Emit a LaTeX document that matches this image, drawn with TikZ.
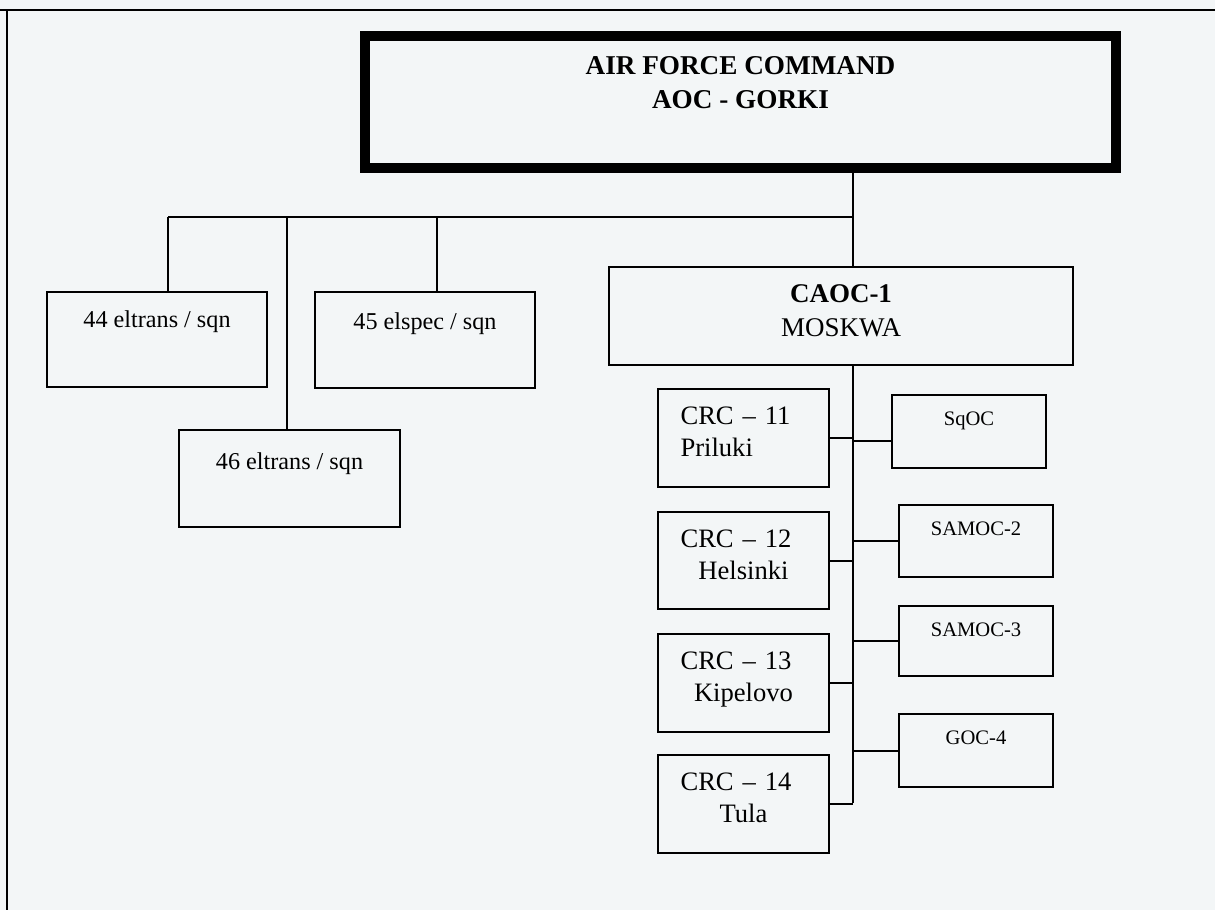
\documentclass[tikz,border=0pt]{standalone}
\usepackage{fontspec}
\setmainfont{Liberation Serif}
\usepackage{tikz}
\usetikzlibrary{positioning}
\definecolor{scanbg}{RGB}{243,246,247}
\tikzset{
  cmdbox/.style={draw,line width=5pt,outer sep=0pt,inner sep=0pt},
  unitbox/.style={draw,line width=1pt,outer sep=0pt,inner sep=0pt},
  cmdlbl/.style={anchor=north,inner sep=0pt,align=center,
    font=\fontsize{13.6}{17}\selectfont\bfseries},
  caoclbl/.style={anchor=north,inner sep=0pt,align=center,
    font=\fontsize{13.5}{17}\selectfont},
  sqnlbl/.style={anchor=north,inner sep=0pt,font=\fontsize{12.1}{14}\selectfont},
  crclbl/.style={anchor=north,inner sep=0pt,text width=63pt,align=left,
    font=\fontsize{13.3}{16}\selectfont},
  oclbl/.style={anchor=north,inner sep=0pt,font=\fontsize{10.3}{12}\selectfont},
  link/.style={line width=1pt},
  frameln/.style={line width=1.2pt},
}

\begin{document}
\begin{tikzpicture}[x=0.5pt,y=-0.5pt]
  \fill[scanbg] (0,0) rectangle (1215,910);
  \useasboundingbox (0,0) rectangle (1215,910);
  \draw[frameln] (0,10) -- (1215,10);
  \draw[frameln] (7,10) -- (7,910);

  \node[cmdbox,minimum width=375.5pt,minimum height=66pt] (afc) at (740.5,102) {};
  \node[cmdlbl,below=10pt of afc.north] (afclbl) {AIR FORCE COMMAND\\AOC - GORKI};

  \node[unitbox,minimum width=232pt,minimum height=49pt] (caoc) at (841,316) {};
  \node[caoclbl,below=8.5pt of caoc.north] (caoclbl) {{\bfseries CAOC-1}\\MOSKWA};

  \node[unitbox,minimum width=110pt,minimum height=47.5pt] (sq44) at (157,339.5) {};
  \node[unitbox,minimum width=110pt,minimum height=48pt] (sq45) at (425,340) {};
  \node[unitbox,minimum width=110.5pt,minimum height=48.5pt] (sq46) at (289.5,478.5) {};
  \node[sqnlbl,below=9pt of sq44.north] (sq44lbl) {44 eltrans / sqn};
  \node[sqnlbl,below=10pt of sq45.north] (sq45lbl) {45 elspec / sqn};
  \node[sqnlbl,below=11pt of sq46.north] (sq46lbl) {46 eltrans / sqn};

  \node[unitbox,minimum width=85.5pt,minimum height=49pt] (crc11) at (743.5,438) {};
  \node[unitbox,minimum width=85.5pt,minimum height=48.5pt] (crc12) at (743.5,560.5) {};
  \node[unitbox,minimum width=85.5pt,minimum height=49pt] (crc13) at (743.5,683) {};
  \node[unitbox,minimum width=85.5pt,minimum height=49pt] (crc14) at (743.5,804) {};
  \node[crclbl,below=8.5pt of crc11.north] (crc11lbl) {CRC -- 11\\Priluki};
  \node[crclbl,below=8.5pt of crc12.north] (crc12lbl) {CRC -- 12\par{\centering Helsinki\par}};
  \node[crclbl,below=8.5pt of crc13.north] (crc13lbl) {CRC -- 13\par{\centering Kipelovo\par}};
  \node[crclbl,below=8.5pt of crc14.north] (crc14lbl) {CRC -- 14\par{\centering Tula\par}};

  \node[unitbox,minimum width=77pt,minimum height=36.5pt] (sqoc) at (969,431.5) {};
  \node[unitbox,minimum width=77pt,minimum height=36pt] (samoc2) at (976,541) {};
  \node[unitbox,minimum width=77pt,minimum height=35pt] (samoc3) at (976,641) {};
  \node[unitbox,minimum width=77pt,minimum height=36.5pt] (goc4) at (976,750.5) {};
  \node[oclbl,below=8pt of sqoc.north] (sqoclbl) {SqOC};
  \node[oclbl,below=8pt of samoc2.north] (samoc2lbl) {SAMOC-2};
  \node[oclbl,below=8pt of samoc3.north] (samoc3lbl) {SAMOC-3};
  \node[oclbl,below=8pt of goc4.north] (goc4lbl) {GOC-4};

  \coordinate (trunk) at (853,217);
  \coordinate (j44) at (168,217);
  \coordinate (j46) at (287,217);
  \coordinate (j45) at (437,217);
  \coordinate (busend) at (853,803);
  \draw[link] (afc.south -| trunk) -- (caoc.north -| trunk);
  \draw[link] (j44) -- (trunk);
  \draw[link] (j44) -- (j44 |- sq44.north);
  \draw[link] (j46) -- (j46 |- sq46.north);
  \draw[link] (j45) -- (j45 |- sq45.north);
  \draw[link] (caoc.south -| trunk) -- (busend);
  \foreach \n in {crc11,crc12,crc13,crc14}
    \draw[link] (\n.east) -- (\n.east -| busend);
  \foreach \n in {samoc2,samoc3,goc4}
    \draw[link] (\n.west) -- (\n.west -| busend);
  \draw[link] ([yshift=-4.5pt]sqoc.west) -- ([yshift=-4.5pt]sqoc.west -| busend);
\end{tikzpicture}
\end{document}
